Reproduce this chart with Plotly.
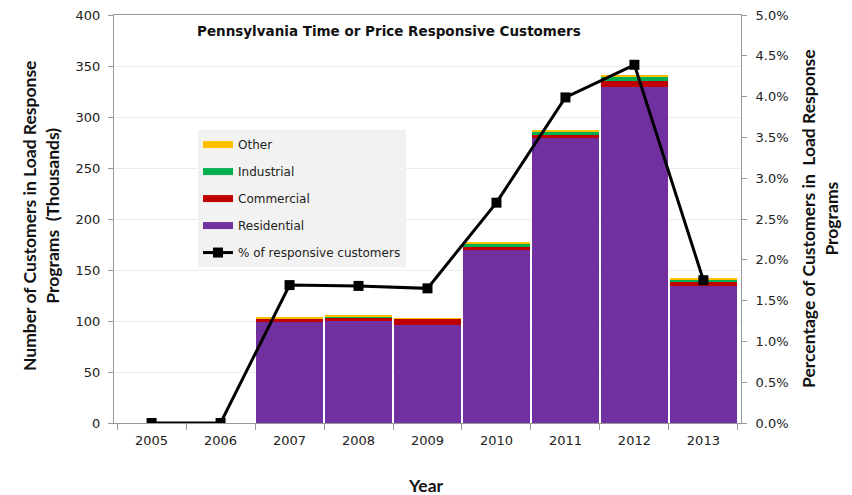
import plotly.graph_objects as go

years = ["2005", "2006", "2007", "2008", "2009", "2010", "2011", "2012", "2013"]

# Customers in load response programs (thousands)
residential = [0, 0, 99.3, 100.3, 96.0, 169.3, 279.0, 329.5, 134.6]
commercial = [0, 0, 3.3, 2.7, 6.0, 3.3, 3.6, 5.5, 4.0]
industrial = [0, 0, 0.0, 1.0, 0.0, 3.0, 3.0, 5.0, 2.3]
other = [0, 0, 1.0, 1.0, 0.6, 1.2, 1.0, 1.0, 0.3]

# Share of customers in load response programs
pct_responsive = [0.0, 0.0, 0.0169, 0.0168, 0.0165, 0.0270, 0.0399, 0.0439, 0.0175]

tick_font = dict(family="DejaVu Sans", size=13, color="#222222")
title_font = dict(family="Lato", size=17.5, color="#111111")

fig = go.Figure()

bar_series = [
    ("Residential", residential, "#7030A0", 4),
    ("Commercial", commercial, "#C00000", 3),
    ("Industrial", industrial, "#00B050", 2),
    ("Other", other, "#FFC000", 1),
]
for name, vals, color, rank in bar_series:
    fig.add_trace(go.Bar(
        x=years, y=vals, name=name, marker=dict(color=color, line=dict(width=0)),
        showlegend=False,
    ))
    # Legend key drawn as a wide colour swatch
    fig.add_trace(go.Scatter(
        x=[None], y=[None], name=name, mode="lines",
        line=dict(color=color, width=7), legendrank=rank, legendgroup=name,
        hoverinfo="skip",
    ))

fig.add_trace(go.Scatter(
    x=years, y=pct_responsive, name="% of responsive customers", yaxis="y2",
    mode="lines+markers", line=dict(color="black", width=3),
    marker=dict(symbol="square", size=10, color="black"),
    legendrank=5, legendgroup="pct",
))

fig.update_layout(
    width=852, height=495,
    margin=dict(l=114, r=111, t=15, b=72, autoexpand=False),
    barmode="stack", bargap=0.04,
    plot_bgcolor="white", paper_bgcolor="white",
    showlegend=True,
    legend=dict(
        x=0.134, y=0.718, xanchor="left", yanchor="top",
        bgcolor="#f2f2f2", traceorder="grouped", tracegroupgap=8,
        font=dict(family="DejaVu Sans", size=12, color="#222222"),
        itemwidth=30,
    ),
    xaxis=dict(
        type="category", tickson="boundaries", ticks="outside", ticklen=6,
        tickcolor="#999999", showline=True, linecolor="#999999", mirror=True,
        tickfont=tick_font, showgrid=False, ticklabelstandoff=5,
    ),
    yaxis=dict(
        range=[0, 400], dtick=50, ticks="outside", ticklen=5, tickcolor="#999999",
        showline=True, linecolor="#999999", gridcolor="#ececec",
        tickfont=tick_font, zeroline=False, ticklabelstandoff=5,
    ),
    yaxis2=dict(
        range=[0, 0.05], dtick=0.005, tickformat=".1%", overlaying="y", side="right",
        ticks="outside", ticklen=5, tickcolor="#999999", showline=True,
        linecolor="#999999", showgrid=False, tickfont=tick_font, zeroline=False,
        ticklabelstandoff=6,
    ),
    annotations=[
        dict(text="<b>Pennsylvania Time or Price Responsive Customers</b>",
             x=0.5, xref="paper", y=0.985, yref="paper", xanchor="center", yanchor="top",
             showarrow=False, font=dict(family="DejaVu Sans", size=13.5, color="#111111"),
             xshift=-39),
        dict(text="<b>Number of Customers in Load Response<br>Programs  (Thousands)</b>",
             x=0, xref="paper", y=0.5, yref="paper", showarrow=False, textangle=-90,
             font=title_font, xanchor="center", yanchor="middle", xshift=-73, yshift=3),
        dict(text="<b>Percentage of Customers in  Load Response<br>Programs</b>",
             x=1, xref="paper", y=0.5, yref="paper", showarrow=False, textangle=-90,
             font=title_font, xanchor="center", yanchor="middle", xshift=79),
        dict(text="<b>Year</b>", x=0.5, xref="paper", y=-0.152, yref="paper",
             showarrow=False, font=title_font, xanchor="center", yanchor="middle",
             xshift=-2),
    ],
)

fig.write_html("out.html")
